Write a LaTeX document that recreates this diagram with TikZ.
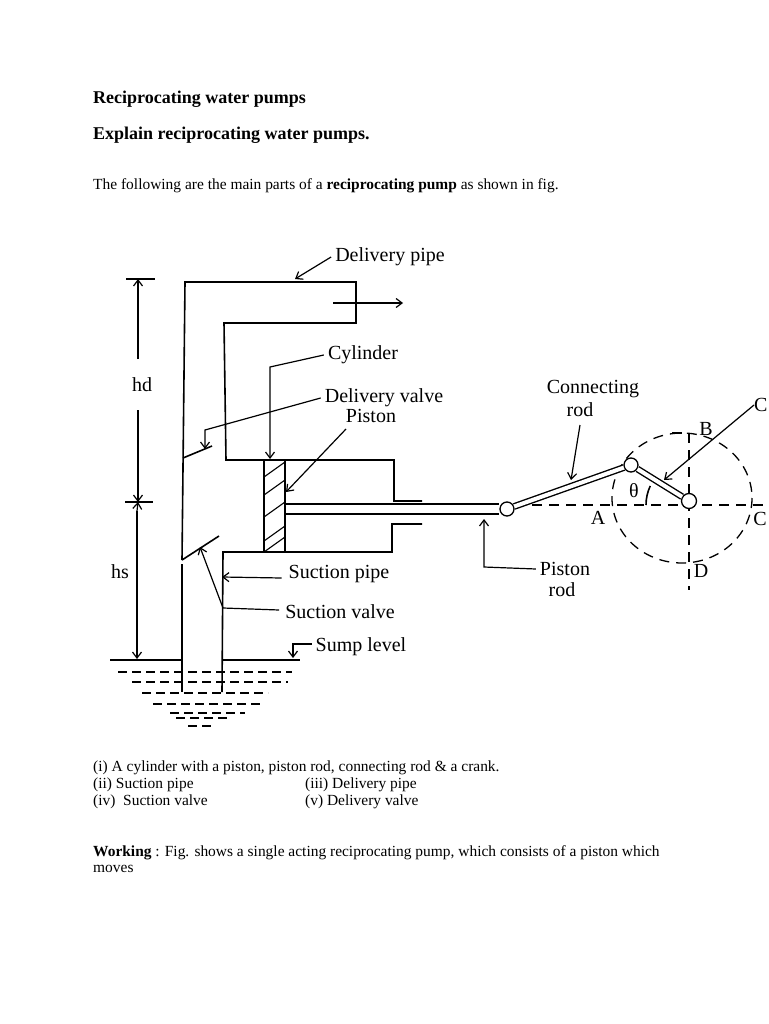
\documentclass[tikz,border=0pt]{standalone}
\usepackage{fontspec}
\setmainfont{Liberation Serif}
\usetikzlibrary{calc,positioning,arrows.meta}
\tikzset{
  wall/.style={line width=1.6pt, black},
  thin wall/.style={line width=1.1pt, black},
  leader/.style={line width=1.2pt, black, -{Straight Barb[length=6pt,width=9pt]}},
  water/.style={line width=1.3pt, black, dash pattern=on 9pt off 5pt},
  crankdash/.style={line width=1.3pt, black, dash pattern=on 10pt off 7pt},
  pin/.style={circle, draw=black, fill=white, line width=1.3pt, minimum size=14pt, inner sep=0pt},
  rodline/.style={line width=1.4pt, black, double=white, double distance=4pt},
  para/.style={anchor=base west, inner sep=0pt, font=\fontsize{15.45}{17}\selectfont},
  heading/.style={anchor=base west, inner sep=0pt, font=\fontsize{18}{20}\selectfont\bfseries},
  lbl/.style={inner xsep=4pt, inner ysep=0pt, font=\fontsize{20}{21}\selectfont},
}
\begin{document}
\begin{tikzpicture}[x=1pt,y=-1pt]
  \useasboundingbox (0,0) rectangle (768,1024);
  % --- page text ---
  \node[heading] (title) at (93,103.5) {Reciprocating water pumps};
  \node[heading] (question) at (93,139.5) {Explain reciprocating water pumps.};
  \node[para] (intro) at (93,190) {The following are the main parts of a \textbf{reciprocating pump} as shown in fig.};
  \node[para] (part1) at (93,771) {(i) A cylinder with a piston, piston rod, connecting rod \& a crank.};
  \node[para] (part2) at (93,788.5) {(ii) Suction pipe};
  \node[para] (part3) at (305,788.5) {(iii) Delivery pipe};
  \node[para] (part4) at (93,805.5) {(iv)\ \ Suction valve};
  \node[para] (part5) at (305,805.5) {(v) Delivery valve};
  \node[para] (work1) at (93,856) {\textbf{Working} : Fig. shows a single acting reciprocating pump, which consists of a piston which};
  \node[para] (work2) at (93,872) {moves};

  % --- pipes and cylinder ---
  \draw[wall] (182,560) -- (185,282) -- (356,282) -- (356,323) -- (224,323)
    -- (226,460) -- (394,460) -- (394,501) -- (422,501);
  \draw[wall] (422,524) -- (392,524) -- (392,552) -- (223,552) -- (222,692);
  \draw[wall] (182,564) -- (182,692);
  % valves
  \draw[wall] (183,458) -- (212,446);
  \draw[wall] (182,560) -- (219,536);

  % --- piston ---
  \draw[wall] (264,460) rectangle (285,552);
  \foreach \y in {477,495,517,541,552}{
    \draw[thin wall] (264,\y) -- (285,\y-15);
  }

  % --- crank circle ---
  \coordinate (crankc) at (682,498);
  \draw[crankdash] (crankc) ellipse (70 and 65);
  \draw[crankdash] (515,505) -- (768,505);
  \draw[crankdash] (689,433) -- (689,590);
  \draw[crankdash] (672,433) -- (689,433);
  \draw[wall] (646,505) arc[start angle=180, end angle=205, radius=45];

  % --- rods ---
  \node[pin] (pinrod) at (507,509) {};
  \node[pin] (pinbig) at (631,465) {};
  \node[pin, minimum size=15pt] (pincrank) at (689,501) {};
  \coordinate (pistonface) at (285.7,509);
  \draw[rodline, double distance=8.5pt] (pistonface) -- (pinrod);
  \draw[rodline] (pinrod) -- (pinbig);
  \draw[rodline] (pinbig) -- (pincrank);

  % --- water ---
  \draw[wall] (110,660) -- (182,660);
  \draw[thin wall] (222,660) -- (300,660);
  \foreach \y/\a/\b in {672/118/292,682/132/288,693/142/268,704/153/262,
                        713/170/245,718/176/230,726/188/215}{
    \draw[water] (\a,\y) -- (\b,\y);
  }

  % --- hd and hs ---
  \node[lbl] (hd) at (142,385) {hd};
  \node[lbl] (hs) at (120,572) {hs};
  \coordinate (hdtop) at (138,279);
  \coordinate (hdbot) at (138,502);
  \coordinate (hsbot) at (137,659);
  \draw[thin wall] (126,279) -- (155,279);
  \draw[thin wall] (125,502) -- (153,502);
  \draw[leader] (138,359) -- (hdtop);
  \draw[leader] (138,410) -- (hdbot);
  \draw[leader] (137,511) -- (hdbot);
  \draw[leader] (137,511) -- (hsbot);

  % --- labels with leaders ---
  \node[lbl] (ldelpipe) at (390,257) {Delivery pipe};
  \coordinate (delpipe) at (295,279);
  \draw[leader] (ldelpipe.west) -- (delpipe);
  \coordinate (outa) at (333,303);
  \coordinate (outb) at (403,303);
  \draw[leader] (outa) -- (outb);

  \node[lbl] (lcyl) at (363,355) {Cylinder};
  \coordinate (cyla) at (270,367);
  \coordinate (cylb) at (270,459);
  \draw[leader] (lcyl.west) -- (cyla) -- (cylb);

  \node[lbl] (ldelv) at (384,398) {Delivery valve};
  \coordinate (delva) at (205,430);
  \coordinate (delvb) at (205,449);
  \draw[leader] (ldelv.west) -- (delva) -- (delvb);

  \node[lbl] (lpiston) at (371,416) {Piston};
  \coordinate (pistonf) at (286,492);
  \draw[leader] (346,429) -- (pistonf);

  \node[lbl] (lsucp) at (339,574) {Suction pipe};
  \coordinate (sucp) at (222,577);
  \draw[leader] (lsucp.west) ++(-3,4) -- (sucp);

  \node[lbl] (lsucv) at (340,612) {Suction valve};
  \coordinate (sucva) at (223,608);
  \coordinate (sucvb) at (200,547);
  \draw[leader] (lsucv.west) ++(-2,-2) -- (sucva) -- (sucvb);

  \node[lbl] (lsump) at (361,647) {Sump level};
  \coordinate (sumpa) at (293,644);
  \coordinate (sumpb) at (293,658);
  \draw[leader] (lsump.west) ++(0,-3) -- (sumpa) -- (sumpb);

  \node[lbl] (lconn) at (593,389) {Connecting};
  \node[lbl] (lconnb) at (580,410) {rod};
  \coordinate (connr) at (571,480);
  \draw[leader] (580,425) -- (connr);

  \node[lbl] (lrod) at (565,569) {Piston};
  \node[lbl] (lrodb) at (562,590) {rod};
  \coordinate (roda) at (484,567);
  \coordinate (rodb) at (484,519);
  \draw[leader] (lrod.west) -- (roda) -- (rodb);

  \node[lbl, anchor=west, inner xsep=0pt] (lcrank) at (754,405) {C};
  \coordinate (crankp) at (664,480);
  \draw[leader] (lcrank.west) -- (crankp);

  \node[lbl] (lb) at (706,429) {B};
  \node[lbl] (la) at (598,518) {A};
  \node[lbl] (lc) at (760,519) {C};
  \node[lbl] (ld) at (701,571) {D};
  \node[lbl] (ltheta) at (634,491) {θ};
\end{tikzpicture}
\end{document}
